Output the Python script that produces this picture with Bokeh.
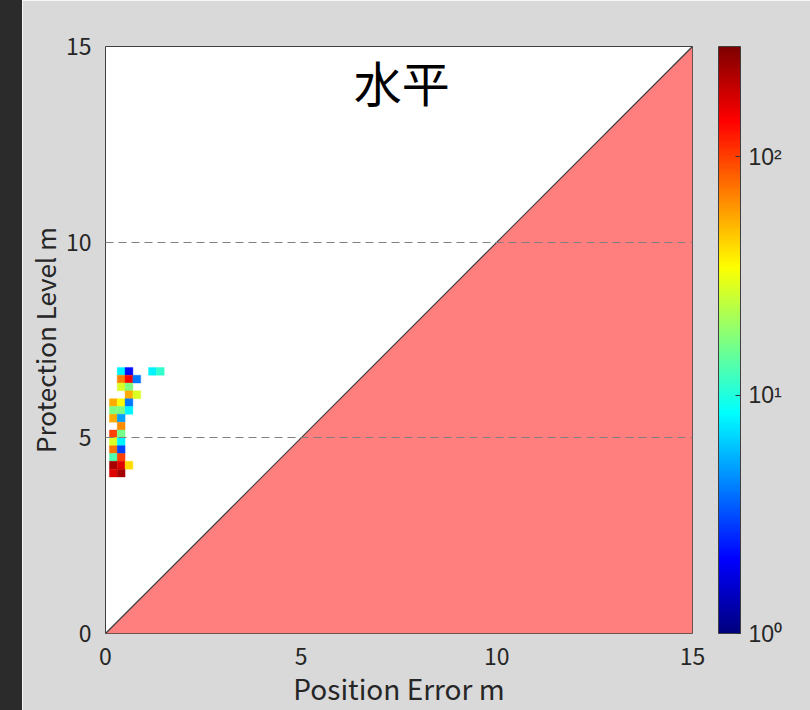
from bokeh.plotting import figure
from bokeh.models import (LogColorMapper, ColorBar, FixedTicker, Label,
                          ColumnDataSource, Div)
from bokeh.layouts import row
from bokeh.transform import transform
from bokeh.embed import file_html
from bokeh.resources import INLINE

# ---- data ----
# 2D histogram cells: (position error, protection level) bin centres and counts
cell_x = [0.4, 0.6, 1.2, 1.4,
          0.4, 0.6, 0.8,
          0.4, 0.6,
          0.6, 0.8,
          0.2, 0.4, 0.6,
          0.2, 0.4, 0.6,
          0.2, 0.4,
          0.4,
          0.2, 0.4,
          0.2, 0.4,
          0.2, 0.4,
          0.2, 0.4,
          0.2, 0.4, 0.6,
          0.2, 0.4]
cell_y = [6.7, 6.7, 6.7, 6.7,
          6.5, 6.5, 6.5,
          6.3, 6.3,
          6.1, 6.1,
          5.9, 5.9, 5.9,
          5.7, 5.7, 5.7,
          5.5, 5.5,
          5.3,
          5.1, 5.1,
          4.9, 4.9,
          4.7, 4.7,
          4.5, 4.5,
          4.3, 4.3, 4.3,
          4.1, 4.1]
cell_count = [8, 2.2, 8, 11,
              70, 140, 4,
              28, 17,
              55, 28,
              55, 35, 4,
              17, 17, 8,
              55, 5,
              65,
              100, 16,
              28, 8,
              75, 3,
              13, 100,
              230, 170, 42,
              170, 230]
bin_size = 0.2

# unsafe region (position error > protection level)
region_x = [0, 15, 15]
region_y = [0, 0, 15]
diag_x = [0, 15]
diag_y = [0, 15]

axis_ticks = [0, 5, 10, 15]
grid_ticks = [5, 10, 15]
cbar_ticks = [1, 10, 100]
cbar_labels = {1: "10\u2070", 10: "10\u00b9", 100: "10\u00b2"}
count_low, count_high = 1, 290

# ---- jet palette ----
def _clip(v):
    return max(0.0, min(1.0, v))

jet = []
for i in range(256):
    t = i / 255
    r = _clip(min(4 * t - 1.5, -4 * t + 4.5))
    g = _clip(min(4 * t - 0.5, -4 * t + 3.5))
    b = _clip(min(4 * t + 0.5, -4 * t + 2.5))
    jet.append("#%02x%02x%02x" % (int(r * 255), int(g * 255), int(b * 255)))

mapper = LogColorMapper(palette=jet, low=count_low, high=count_high)

FONT = "Noto Sans CJK JP"
TXT = "#262626"

p = figure(width=788, height=710, x_range=(0, 15), y_range=(0, 15),
           output_backend="svg", toolbar_location=None,
           min_border_left=83, min_border_right=118,
           min_border_top=46, min_border_bottom=77,
           background_fill_color="white", border_fill_color="#d9d9d9")

p.patch(region_x, region_y, fill_color="#ff7f7f", line_color=None)
p.line(diag_x, diag_y, line_color="#3a3a3a", line_width=1.2)

src = ColumnDataSource(dict(x=cell_x, y=cell_y, count=cell_count))
p.rect(x="x", y="y", width=bin_size, height=bin_size, source=src,
       fill_color=transform("count", mapper),
       line_color=transform("count", mapper), line_width=0.4)

p.xgrid.visible = False
p.ygrid.ticker = FixedTicker(ticks=grid_ticks)
p.ygrid.grid_line_color = "#808080"
p.ygrid.grid_line_dash = "8 5"
p.ygrid.grid_line_width = 1
p.ygrid.level = "overlay"

for ax in (p.xaxis, p.yaxis):
    ax.ticker = FixedTicker(ticks=axis_ticks)
    ax.major_tick_line_color = None
    ax.minor_tick_line_color = None
    ax.axis_line_color = None
    ax.major_label_text_font = FONT
    ax.major_label_text_font_size = "23px"
    ax.major_label_text_color = TXT
    ax.axis_label_text_font = FONT
    ax.axis_label_text_font_style = "normal"
    ax.axis_label_text_color = TXT

p.xaxis.axis_label_text_font_size = "28px"
p.yaxis.axis_label_text_font_size = "26px"
p.xaxis.major_label_standoff = 8
p.yaxis.major_label_standoff = 8
p.xaxis.axis_label = "Position Error m"
p.yaxis.axis_label = "Protection Level m"
p.xaxis.axis_label_standoff = 0
p.yaxis.axis_label_standoff = 0
p.yaxis.major_label_orientation = "horizontal"

p.outline_line_color = "#404040"
p.outline_line_width = 1

cb = ColorBar(color_mapper=mapper, ticker=FixedTicker(ticks=cbar_ticks),
              major_label_overrides=cbar_labels,
              location=(613, 0),
              width=22, height=587, padding=0, margin=0,
              bar_line_color="#404040", bar_line_width=1,
              major_tick_line_color="#333333", major_tick_in=5, major_tick_out=0,
              minor_tick_line_color=None,
              major_label_text_font="Liberation Sans",
              major_label_text_font_size="23px",
              major_label_text_color=TXT,
              label_standoff=8,
              background_fill_color=None, border_line_color=None)
p.add_layout(cb, "center")

p.add_layout(Label(x=7.57, y=14.13, text="水平", text_font=FONT,
                   text_font_size="48px", text_color="black",
                   text_align="center", text_baseline="middle"))

strip = Div(width=22, height=710, margin=0,
            styles={"background-color": "#2b2b2b", "width": "22px", "height": "710px"})

layout = row(strip, p, spacing=0)

open("out.html", "w").write(file_html(layout, INLINE))
